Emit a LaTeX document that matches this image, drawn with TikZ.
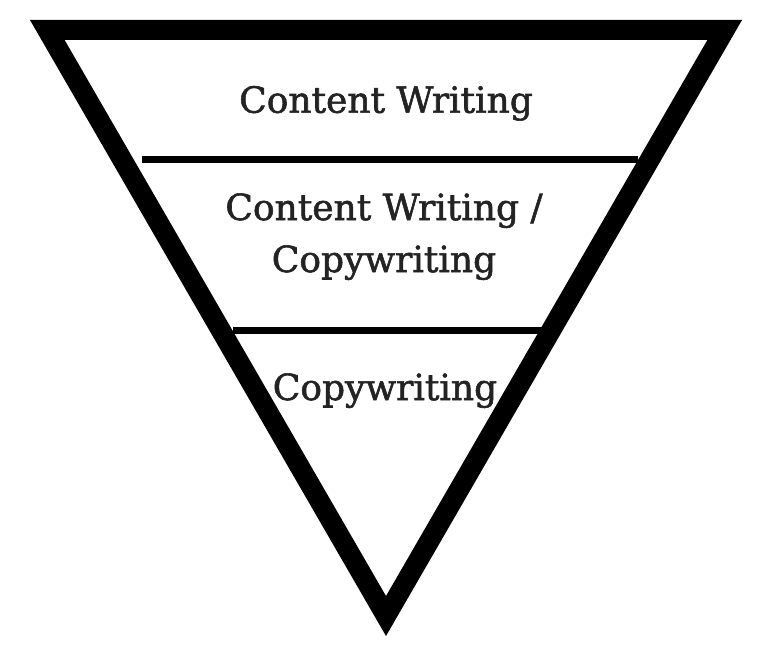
\documentclass[tikz,border=0pt]{standalone}
\usepackage{fontspec}
\setmainfont{DejaVu Serif}
\newfontfamily\slabfont{DejaVu Serif}[FakeBold=1.6]
\usepackage{tikz}
\definecolor{inkgray}{HTML}{232323}

\begin{document}
\begin{tikzpicture}[x=1pt,y=-1pt,inner sep=0pt,
  label text/.style={text=inkgray,anchor=base,align=center,
    font=\slabfont\fontsize{36}{52}\selectfont}]
\useasboundingbox (0,0) rectangle (776,661);
% funnel corners
\coordinate (TopLeft) at (47.3,30);
\coordinate (TopRight) at (724.7,30);
\coordinate (Tip) at (386,616);
\draw[line width=20pt,line join=miter] (TopLeft) -- (TopRight) -- (Tip) -- cycle;
% dividers
\coordinate (DivA1) at (142,159);
\coordinate (DivA2) at (638,159);
\coordinate (DivB1) at (233,330.5);
\coordinate (DivB2) at (545,330.5);
\draw[line width=7pt] (DivA1) -- (DivA2);
\draw[line width=7pt] (DivB1) -- (DivB2);
% texts
\node at (386,112.7) [label text] (Top) {Content Writing};
\node at (384,272) [label text] (Middle) {Content Writing /\\Copywriting};
\node at (385,400) [label text] (Bottom) {Copywriting};

\end{tikzpicture}
\end{document}
